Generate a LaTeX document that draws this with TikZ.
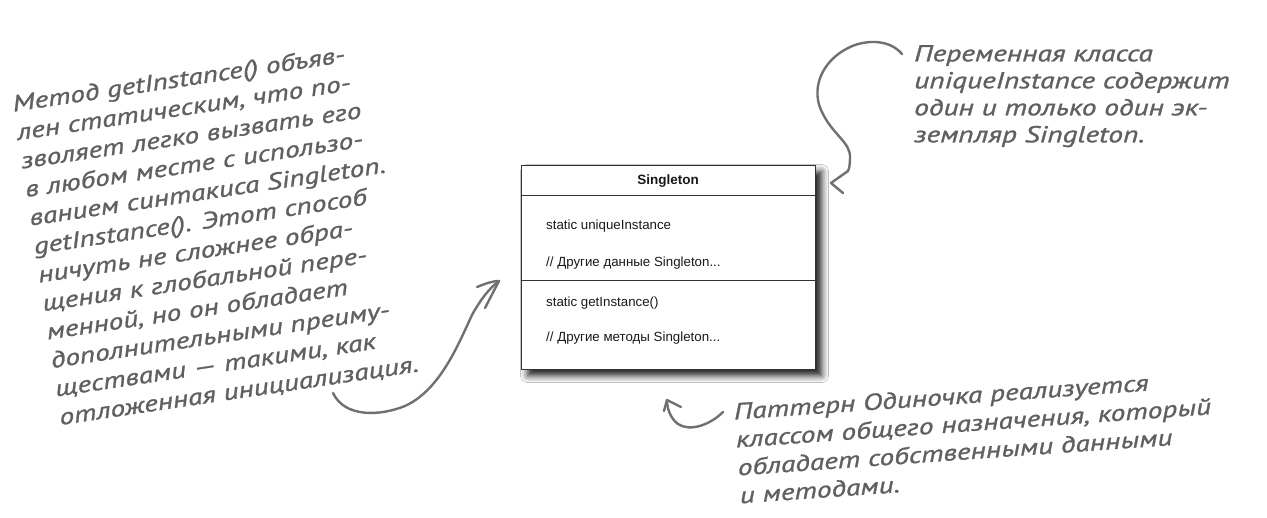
\documentclass[tikz,border=0pt]{standalone}
\usepackage{fontspec}
\setmainfont{Liberation Sans}
\newfontfamily\handfont[FakeStretch=1.28, FakeBold=1.2]{PT Sans Italic}
\usetikzlibrary{shadows.blur}
\definecolor{handgray}{HTML}{606060}
\definecolor{arrgray}{HTML}{707070}
\definecolor{boxline}{HTML}{333333}
\tikzset{
  hand/.style={font=\handfont\fontsize{23}{27}\selectfont, text=handgray, inner sep=0pt, align=left},
  umlbox/.style={draw=boxline, line width=1pt, fill=white, inner sep=0pt,
    blur shadow={shadow xshift=6pt, shadow yshift=-6pt, shadow blur radius=7pt, shadow opacity=90}},
  umltext/.style={font=\fontsize{13.3}{15}\selectfont, text=black!90, inner sep=0pt},
  sepline/.style={draw=boxline, line width=1pt},
  arrline/.style={draw=arrgray, line width=2.4pt, line cap=round, line join=round}
}
\begin{document}
\begin{tikzpicture}[x=1pt,y=-1pt]
\useasboundingbox[fill=white] (0,0) rectangle (1267,518);

% UML class box
\node[umlbox, minimum width=294pt, minimum height=204pt, anchor=north west] (cls) at (521,165) {};
\draw[sepline] ([yshift=-31pt]cls.north west) -- ([yshift=-31pt]cls.north east);
\draw[sepline] ([yshift=-115.7pt]cls.north west) -- ([yshift=-115.7pt]cls.north east);
\node[umltext, font=\fontsize{13.5}{15}\selectfont\bfseries] (title) at (668,181) {Singleton};
\node[umltext, anchor=west] (attrA) at (546,226) {static uniqueInstance};
\node[umltext, anchor=west] (attrB) at (546,262.7) {// Другие данные Singleton...};
\node[umltext, anchor=west] (opA) at (546,303) {static getInstance()};
\node[umltext, anchor=west] (opB) at (546,338) {// Другие методы Singleton...};

% left note
\node[hand, font=\handfont\fontsize{23}{28.8}\selectfont, rotate=8.5, anchor=north west] (noteL) at (11,95) {Метод getInstance() объяв-\\
лен статическим, что по-\\
зволяет легко вызвать его\\
в любом месте с использо-\\
ванием синтакиса Singleton.\\
getInstance(). Этот способ\\
ничуть не сложнее обра-\\
щения к глобальной пере-\\
менной, но он обладает\\
дополнительными преиму-\\
ществами — такими, как\\
отложенная инициализация.};

% top right note
\node[hand, anchor=north west] (noteR) at (914,45) {Переменная класса\\
uniqueInstance содержит\\
один и только один эк-\\
земпляр Singleton.};

% bottom note
\node[hand, font=\handfont\fontsize{23}{28}\selectfont, rotate=4, anchor=north west] (noteB) at (733,403) {Паттерн Одиночка реализуется\\
классом общего назначения, который\\
обладает собственными данными\\
и методами.};

% left arrow
\coordinate (startL) at (333,393);
\coordinate (tipL) at (499,281);
\coordinate (armLa) at (477,287);
\coordinate (armLb) at (485,308);
\draw[arrline] (startL) .. controls (345,418) and (380,416) .. (405,406)
  .. controls (440,390) and (458,345) .. (472,315)
  .. controls (482,297) and (490,288) .. (tipL);
\draw[arrline] (armLa) .. controls (487,283) and (493,281) .. (tipL) -- (armLb);

% top right arrow
\coordinate (startR) at (902,54);
\coordinate (tipR) at (831,183);
\coordinate (armRa) at (848,171);
\coordinate (armRb) at (843,193);
\draw[arrline] (startR) .. controls (890,40) and (870,40) .. (855,45)
  .. controls (825,56) and (810,85) .. (821,110)
  .. controls (832,135) and (851,142) .. (850,158)
  .. controls (850,165) and (849,169) .. (armRa) -- (tipR) -- (armRb);

% bottom arrow
\coordinate (startB) at (723,412);
\coordinate (tipB) at (667,400);
\coordinate (armBa) at (664,411);
\coordinate (armBb) at (681,407);
\draw[arrline] (startB) .. controls (710,425) and (690,432) .. (678,424)
  .. controls (670,418) and (667,408) .. (tipB);
\draw[arrline] (armBa) -- (tipB) -- (armBb);
\end{tikzpicture}
\end{document}
